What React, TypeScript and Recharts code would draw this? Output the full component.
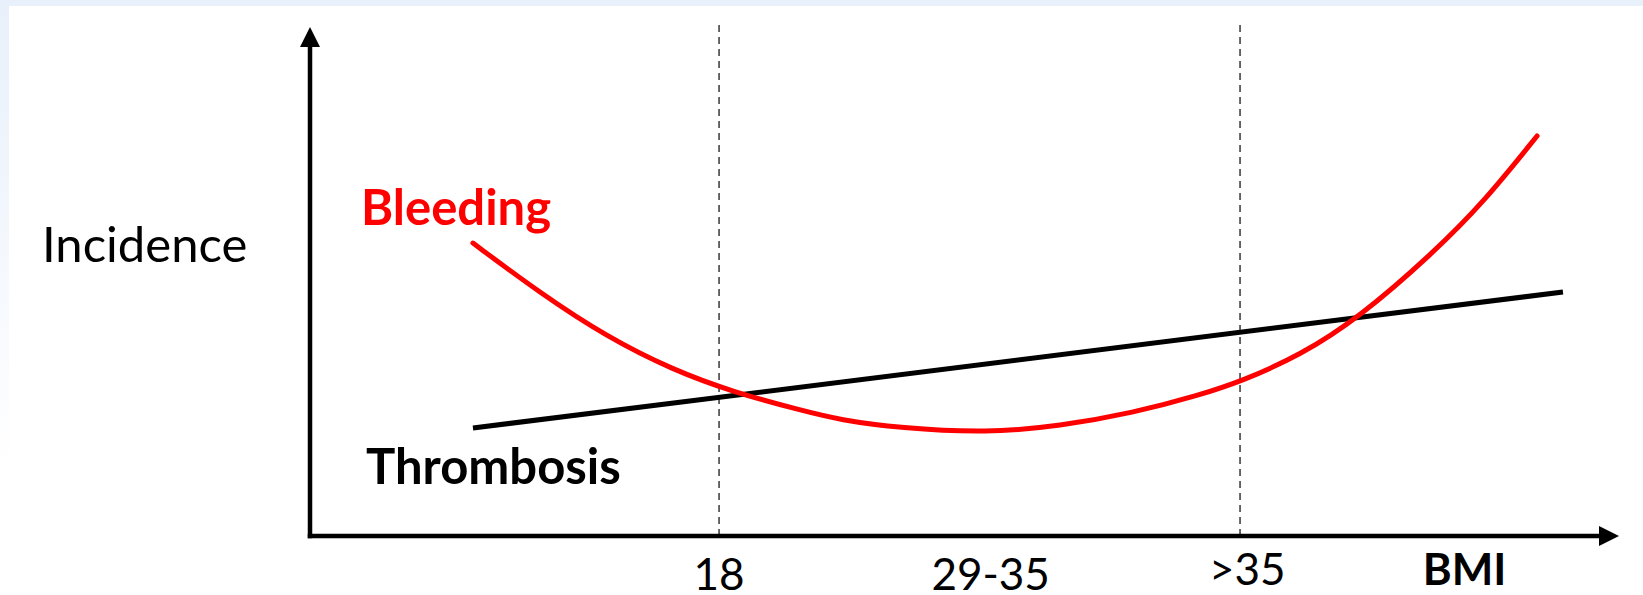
import React from 'react';
import { LineChart, Line, XAxis, YAxis, ReferenceLine } from 'recharts';

// ---- data (x: position along BMI axis 0-100, y: relative incidence 0-100) ----
const bleedingX = [12.45, 17.57, 22.69, 27.73, 32.31, 37.43, 40.49, 45.07, 51.72, 57.3, 62.87, 67.99, 71.2, 75.63, 80.21, 85.79, 89.61, 93.74];
const bleedingY = [57.1, 47.37, 38.79, 32.36, 28.07, 24.56, 22.61, 21.05, 20.08, 21.44, 23.98, 27.49, 30.21, 35.2, 42.69, 55.17, 64.91, 77.97];
const thrombosisX = [12.45, 95.72];
const thrombosisY = [21.05, 47.56];
const tickPositions = [31.25, 52, 71.6, 88.2];
const tickLabels = ['18', '29-35', '>35', 'BMI'];
const cutoffPositions = [31.25, 71.05];

const bleedingData = bleedingX.map((x, i) => ({ x, y: bleedingY[i] }));
const thrombosisData = thrombosisX.map((x, i) => ({ x, y: thrombosisY[i] }));

const W = 1643;
const H = 595;
const FONT = 'Lato, "Open Sans", sans-serif';

const ArrowLine = (props: any) => {
  const { x1, y1, x2, y2 } = props;
  const dx = x2 - x1;
  const dy = y2 - y1;
  const len = Math.sqrt(dx * dx + dy * dy) || 1;
  const ux = dx / len;
  const uy = dy / len;
  const head = 20;
  const half = 10;
  const bx = x2 - ux * head;
  const by = y2 - uy * head;
  const px = -uy;
  const py = ux;
  return (
    <g>
      <line x1={x1} y1={y1} x2={bx + ux * 2} y2={by + uy * 2} stroke="#000" strokeWidth={4.5} strokeLinecap="square" />
      <polygon
        points={`${x2},${y2} ${bx + px * half},${by + py * half} ${bx - px * half},${by - py * half}`}
        fill="#000"
      />
    </g>
  );
};

const tickStyle: Record<string, { bold: boolean; dy: number }> = {
  '18': { bold: false, dy: 46 },
  '29-35': { bold: false, dy: 46 },
  '>35': { bold: false, dy: 41 },
  'BMI': { bold: true, dy: 41 },
};

const CustomTick = (props: any) => {
  const { x, y, payload } = props;
  const idx = tickPositions.indexOf(payload.value);
  const label = idx >= 0 ? tickLabels[idx] : '';
  const st = tickStyle[label] || { bold: false, dy: 45 };
  return (
    <text
      x={x}
      y={y}
      dy={st.dy}
      textAnchor="middle"
      fontFamily={FONT}
      fontSize={44}
      fontWeight={st.bold ? 700 : 400}
      fill="#000"
    >
      {label}
    </text>
  );
};

export default function App() {
  return (
    <div
      style={{
        position: 'absolute',
        left: 0,
        top: 0,
        width: W,
        height: H,
        background: '#fff',
        overflow: 'hidden',
      }}
    >
      <div style={{ position: 'absolute', left: 0, top: 0, width: W, height: 6, background: '#e8f0fb' }} />
      <div
        style={{
          position: 'absolute',
          left: 0,
          top: 0,
          width: 9,
          height: 470,
          background: 'linear-gradient(#e8f0fb, #ffffff)',
        }}
      />
      <div style={{ position: 'absolute', left: 0, top: 0 }}>
        <LineChart width={W} height={H} margin={{ top: 23, right: 24, bottom: 9, left: 310 }}>
          <XAxis
            type="number"
            dataKey="x"
            domain={[0, 100]}
            ticks={tickPositions}
            tick={<CustomTick />}
            axisLine={false}
            tickLine={false}
            height={50}
            interval={0}
            allowDataOverflow
          />
          <YAxis type="number" dataKey="y" domain={[0, 100]} hide allowDataOverflow />
          {cutoffPositions.map((c) => (
            <ReferenceLine key={c} x={c} stroke="#444" strokeWidth={1.6} strokeDasharray="7 5" ifOverflow="visible" />
          ))}
          <ReferenceLine
            segment={[{ x: 0, y: 0 }, { x: 0, y: 99.2 }]}
            shape={<ArrowLine />}
            ifOverflow="visible"
          />
          <ReferenceLine
            segment={[{ x: 0, y: 0 }, { x: 100, y: 0 }]}
            shape={<ArrowLine />}
            ifOverflow="visible"
          />
          <Line
            data={thrombosisData}
            dataKey="y"
            type="linear"
            stroke="#000"
            strokeWidth={5}
            dot={false}
            isAnimationActive={false}
          />
          <Line
            data={bleedingData}
            dataKey="y"
            type="basis"
            stroke="#ff0000"
            strokeWidth={5}
            strokeLinecap="round"
            dot={false}
            isAnimationActive={false}
          />
        </LineChart>
      </div>
      <svg width={W} height={H} style={{ position: 'absolute', left: 0, top: 0, pointerEvents: 'none' }}>
        <text x={42} y={262} fontFamily={FONT} fontSize={49} fill="#000">Incidence</text>
        <text x={361} y={225} fontFamily={FONT} fontSize={49} fontWeight={700} fill="#ff0000">Bleeding</text>
        <text x={366} y={484} fontFamily={FONT} fontSize={49} fontWeight={700} fill="#000">Thrombosis</text>
      </svg>
    </div>
  );
}
